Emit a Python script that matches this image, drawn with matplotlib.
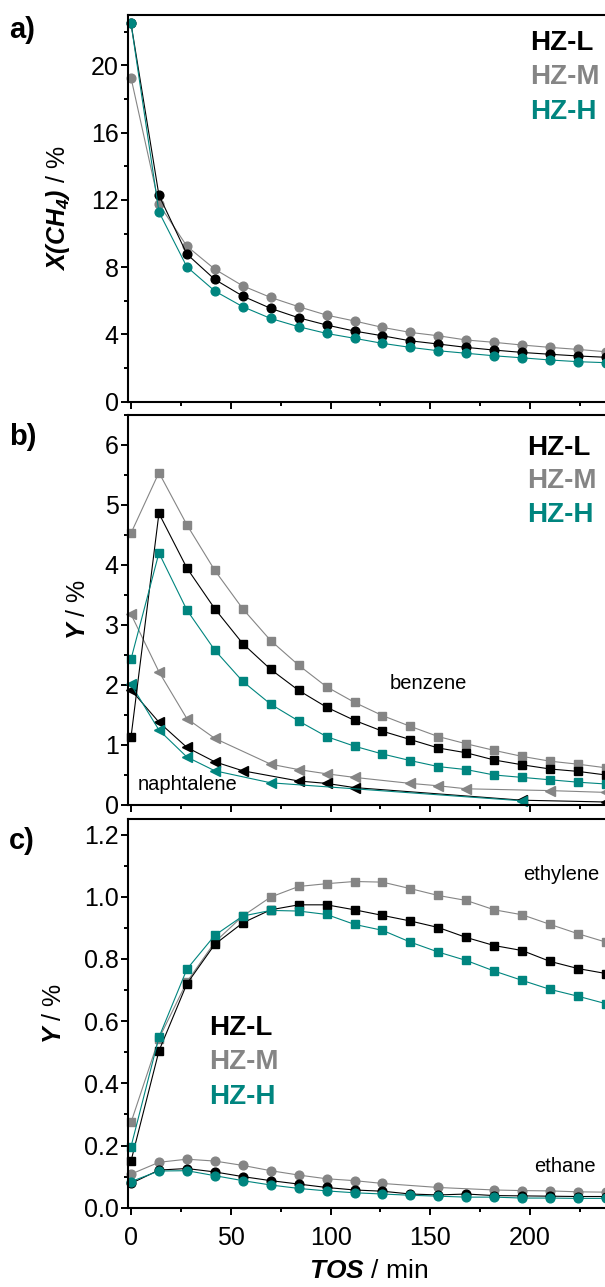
import numpy as np
import matplotlib
matplotlib.use("Agg")
import matplotlib.pyplot as plt
from matplotlib.ticker import MultipleLocator

# time on stream (min)
tos = [0, 14, 28, 42, 56, 70, 84, 98, 112, 126, 140, 154, 168, 182, 196, 210, 224, 238]

# a) methane conversion / %
conv_L = [22.5, 12.28, 8.78, 7.27, 6.28, 5.55, 4.99, 4.56, 4.20, 3.92, 3.62, 3.43, 3.23, 3.07, 2.93, 2.82, 2.72, 2.64]
conv_M = [19.27, 11.75, 9.25, 7.88, 6.89, 6.20, 5.65, 5.15, 4.80, 4.42, 4.12, 3.92, 3.67, 3.53, 3.37, 3.23, 3.11, 2.97]
conv_H = [22.5, 11.29, 8.02, 6.58, 5.65, 4.95, 4.46, 4.06, 3.77, 3.47, 3.23, 3.03, 2.88, 2.73, 2.61, 2.48, 2.38, 2.32]

# b) benzene yield / %
benz_L = [1.13, 4.86, 3.95, 3.27, 2.69, 2.26, 1.91, 1.63, 1.41, 1.23, 1.09, 0.95, 0.87, 0.75, 0.67, 0.60, 0.56, 0.50]
benz_M = [4.53, 5.54, 4.67, 3.91, 3.27, 2.74, 2.33, 1.97, 1.71, 1.49, 1.31, 1.14, 1.02, 0.91, 0.81, 0.73, 0.68, 0.62]
benz_H = [2.43, 4.20, 3.25, 2.58, 2.06, 1.68, 1.40, 1.14, 0.98, 0.85, 0.74, 0.64, 0.59, 0.50, 0.46, 0.42, 0.38, 0.35]

# b) naphthalene yield / % (not every sample measured)
naph_L_t = [0, 14, 28, 42, 56, 84, 98, 112, 196, 238]
naph_L = [1.92, 1.38, 0.96, 0.72, 0.57, 0.40, 0.36, 0.29, 0.08, 0.05]
naph_M_t = [0, 14, 28, 42, 70, 84, 98, 112, 140, 154, 168, 210, 238]
naph_M = [3.18, 2.22, 1.44, 1.11, 0.68, 0.59, 0.52, 0.46, 0.36, 0.32, 0.27, 0.24, 0.21]
naph_H_t = [0, 14, 28, 42, 70, 196]
naph_H = [2.01, 1.25, 0.80, 0.57, 0.37, 0.07]

# c) ethylene yield / %
ethy_L = [0.150, 0.504, 0.720, 0.847, 0.916, 0.958, 0.974, 0.974, 0.958, 0.940, 0.922, 0.901, 0.869, 0.843, 0.827, 0.792, 0.769, 0.753]
ethy_M = [0.274, 0.544, 0.726, 0.854, 0.938, 0.999, 1.033, 1.042, 1.049, 1.047, 1.026, 1.004, 0.988, 0.958, 0.942, 0.911, 0.881, 0.854]
ethy_H = [0.196, 0.548, 0.767, 0.876, 0.938, 0.956, 0.954, 0.943, 0.911, 0.892, 0.854, 0.822, 0.795, 0.761, 0.731, 0.702, 0.680, 0.656]

# c) ethane yield / %
ethn_L = [0.078, 0.121, 0.126, 0.115, 0.100, 0.087, 0.076, 0.065, 0.057, 0.053, 0.044, 0.041, 0.044, 0.039, 0.038, 0.037, 0.036, 0.036]
ethn_M_t = [0, 14, 28, 42, 56, 70, 84, 98, 112, 126, 154, 182, 196, 210, 224, 238]
ethn_M = [0.108, 0.146, 0.156, 0.150, 0.136, 0.119, 0.105, 0.093, 0.087, 0.078, 0.065, 0.057, 0.055, 0.054, 0.051, 0.050]
ethn_H = [0.084, 0.118, 0.119, 0.103, 0.087, 0.073, 0.062, 0.054, 0.048, 0.044, 0.040, 0.037, 0.034, 0.034, 0.031, 0.031, 0.030, 0.030]

samples = ["HZ-L", "HZ-M", "HZ-H"]
cL, cM, cH = "#000000", "#858585", "#00857f"

plt.rcParams['font.family'] = ['Liberation Sans', 'DejaVu Sans']
plt.rcParams['mathtext.fontset'] = 'custom'
plt.rcParams['mathtext.rm'] = 'Liberation Sans'
plt.rcParams['mathtext.it'] = 'Liberation Sans:italic'
plt.rcParams['mathtext.bf'] = 'Liberation Sans:bold'
plt.rcParams['mathtext.bfit'] = 'Liberation Sans:italic:bold'

W, H = 605, 1287
fig = plt.figure(figsize=(W / 100, H / 100), dpi=100)

def fx(px):
    return px / W

def fy(py):
    return 1 - py / H

left = fx(127.7)
width = fx(610) - left
ax_a = fig.add_axes([left, fy(401.7), width, fy(15) - fy(401.7)])
ax_b = fig.add_axes([left, fy(805), width, fy(415) - fy(805)])
ax_c = fig.add_axes([left, fy(1207.7), width, fy(819) - fy(1207.7)])

lw = 0.8
def series(ax, x, y, c, m, ms):
    ax.plot(x, y, color=c, lw=lw, marker=m, ms=ms, mec=c, mfc=c, clip_on=False)

# panel a
series(ax_a, tos, conv_M, cM, 'o', 6.3)
series(ax_a, tos, conv_L, cL, 'o', 6.3)
series(ax_a, tos, conv_H, cH, 'o', 6.3)
ax_a.set_ylim(0, 23)
ax_a.yaxis.set_major_locator(MultipleLocator(4))
ax_a.yaxis.set_minor_locator(MultipleLocator(2))

# panel b
series(ax_b, naph_M_t, naph_M, cM, '<', 6.5)
series(ax_b, naph_L_t, naph_L, cL, '<', 6.5)
series(ax_b, naph_H_t, naph_H, cH, '<', 6.5)
series(ax_b, tos, benz_M, cM, 's', 5.5)
series(ax_b, tos, benz_L, cL, 's', 5.5)
series(ax_b, tos, benz_H, cH, 's', 5.5)
ax_b.set_ylim(0, 6.5)
ax_b.yaxis.set_major_locator(MultipleLocator(1))
ax_b.yaxis.set_minor_locator(MultipleLocator(0.5))

# panel c
series(ax_c, tos, ethy_M, cM, 's', 5.5)
series(ax_c, tos, ethy_L, cL, 's', 5.5)
series(ax_c, tos, ethy_H, cH, 's', 5.5)
series(ax_c, ethn_M_t, ethn_M, cM, 'o', 6.3)
series(ax_c, tos, ethn_L, cL, 'o', 6.3)
series(ax_c, tos, ethn_H, cH, 'o', 6.3)
ax_c.set_ylim(0, 1.25)
ax_c.yaxis.set_major_locator(MultipleLocator(0.2))
ax_c.yaxis.set_minor_locator(MultipleLocator(0.1))
ax_c.yaxis.set_major_formatter(matplotlib.ticker.FormatStrFormatter('%.1f'))

for ax in (ax_a, ax_b, ax_c):
    ax.set_xlim(-1.65, 240)
    ax.xaxis.set_major_locator(MultipleLocator(50))
    ax.xaxis.set_minor_locator(MultipleLocator(25))
    ax.tick_params(which='major', direction='out', length=5, width=1.4, labelsize=18)
    ax.tick_params(which='minor', direction='out', length=3, width=1.4)
    ax.tick_params(axis='y', pad=1.5)
    ax.tick_params(axis='x', pad=8)
    for s in ax.spines.values():
        s.set_linewidth(1.5)
for ax in (ax_a, ax_b):
    ax.tick_params(axis='x', labelbottom=False)

ax_a.set_ylabel(r'$\mathbfit{X(CH_4)}$ / %', fontsize=18, va='center')
ax_a.yaxis.set_label_coords(fx(58 - 127.7) / width, 0.5)
ax_b.set_ylabel(r'$\mathbfit{Y}$ / %', fontsize=18, va='center')
ax_b.yaxis.set_label_coords(fx(78 - 127.7) / width, 0.5)
ax_c.set_ylabel(r'$\mathbfit{Y}$ / %', fontsize=18, va='center')
ax_c.yaxis.set_label_coords(fx(54 - 127.7) / width, 0.5)
ax_c.set_xlabel(r'$\mathbfit{TOS}$ / min', fontsize=19, labelpad=7)

# panel letters
for lab, py in (("a)", 30), ("b)", 437), ("c)", 841)):
    fig.text(fx(9), fy(py), lab, fontsize=21, fontweight='bold', ha='left', va='center')

# sample labels
for xpx, ys in ((530, (43, 77, 112)), (527, (448, 481, 515)), (209, (1028, 1062, 1097))):
    for name, c, py in zip(samples, (cL, cM, cH), ys):
        fig.text(fx(xpx), fy(py), name, color=c, fontsize=20, fontweight='bold', ha='left', va='center')

# compound labels
fig.text(fx(428), fy(683), "benzene", fontsize=14.5, ha='center', va='center')
fig.text(fx(138), fy(785), "naphtalene", fontsize=14.5, ha='left', va='center')
fig.text(fx(561), fy(875), "ethylene", fontsize=14.5, ha='center', va='center')
fig.text(fx(565), fy(1167), "ethane", fontsize=14.5, ha='center', va='center')

fig.savefig("out.png", dpi=100)
